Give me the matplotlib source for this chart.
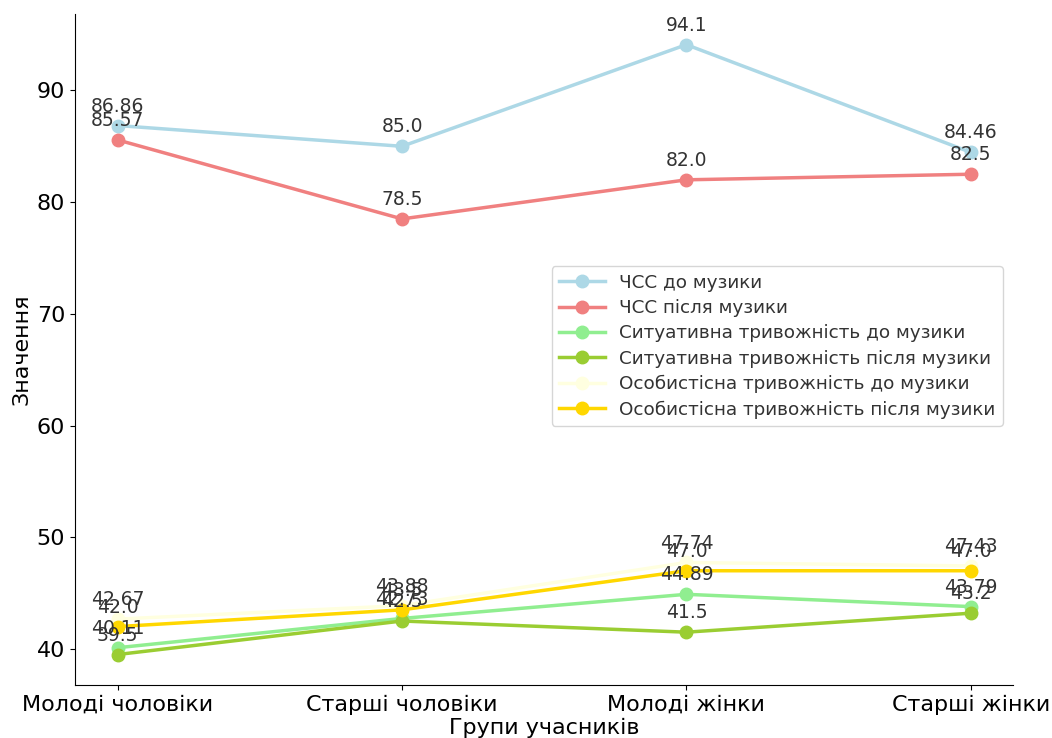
import matplotlib
matplotlib.use("Agg")
import matplotlib.pyplot as plt

groups = ["Молоді чоловіки", "Старші чоловіки", "Молоді жінки", "Старші жінки"]

hr_before      = [86.86, 85.0, 94.1, 84.46]
hr_after       = [85.57, 78.5, 82.0, 82.5]
sit_before     = [40.11, 42.73, 44.89, 43.79]
sit_after      = [39.5, 42.5, 41.5, 43.2]
personal_before = [42.67, 43.88, 47.74, 47.43]
personal_after  = [42.0, 43.5, 47.0, 47.0]

series = [
    ("ЧСС до музики",                      hr_before,       "lightblue"),
    ("ЧСС після музики",                   hr_after,        "lightcoral"),
    ("Ситуативна тривожність до музики",    sit_before,      "lightgreen"),
    ("Ситуативна тривожність після музики", sit_after,       "yellowgreen"),
    ("Особистісна тривожність до музики",   personal_before, "lightyellow"),
    ("Особистісна тривожність після музики", personal_after, "gold"),
]

fig = plt.figure(figsize=(10.52, 7.38), dpi=100)
ax = fig.add_axes([0.0713, 0.0718, 0.892, 0.909])

for label, values, color in series:
    ax.plot(groups, values, marker="o", markersize=9, linewidth=2.5,
            color=color, label=label)
    for x, y in zip(groups, values):
        ax.annotate(f"{y}", (x, y), textcoords="offset points", xytext=(0, 10),
                    ha="center", fontsize=13.5, color="#333333")

ax.set_xlabel("Групи учасників", fontsize=16, labelpad=2)
ax.set_ylabel("Значення", fontsize=16)
ax.tick_params(axis="both", labelsize=16)
ax.spines["top"].set_visible(False)
ax.spines["right"].set_visible(False)

ax.legend(loc="center right", bbox_to_anchor=(0.989, 0.505), borderaxespad=0,
          fontsize=13.2, labelcolor="#333333", handlelength=2.5,
          labelspacing=0.4)

fig.savefig("out.png", dpi=100)
